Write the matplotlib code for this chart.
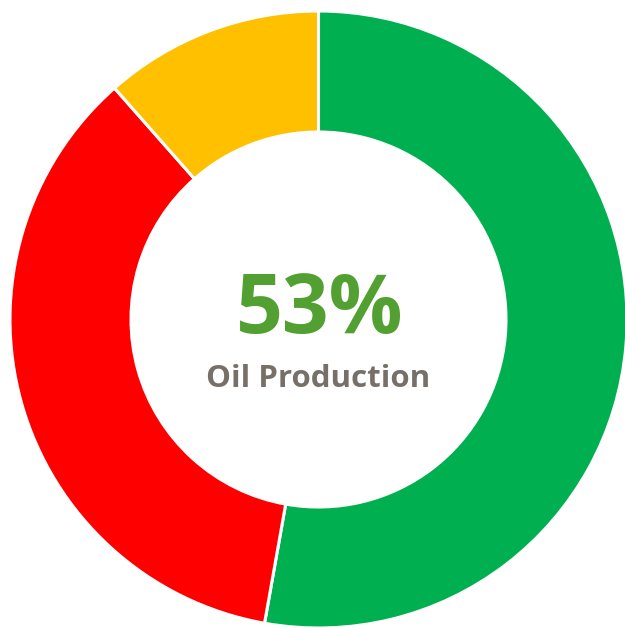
import matplotlib
matplotlib.use('Agg')

import matplotlib.pyplot as plt

# donut segments, clockwise from 12 o'clock
labels = ['Oil Production', 'Other', 'Remaining']
values = [52.8, 35.7, 11.5]
colors = ['#00B050', '#FF0000', '#FFC000']

headline = '53%'
caption = 'Oil Production'

fig = plt.figure(figsize=(6.25, 6.28), dpi=100)
ax = fig.add_axes([0, 0, 1, 1])

# pixel layout: center from top-left, outer radius in px
R = 308.5
cx, cy = 318.5, 319.5

ax.pie(values, colors=colors, startangle=90, counterclock=False,
       radius=1.0, wedgeprops=dict(width=121 / R, edgecolor='white', linewidth=2.2))

ax.set_xlim(-cx / R, (625 - cx) / R)
ax.set_ylim(-(628 - cy) / R, cy / R)
ax.set_aspect('auto')
ax.axis('off')

def ypix(p):
    return (cy - p) / R

ax.text(0.003, ypix(333), headline, ha='center', va='baseline',
        fontsize=59, fontweight='bold', color='#52A031', family='Open Sans')
ax.text(0.0, ypix(387), caption, ha='center', va='baseline',
        fontsize=22.5, fontweight='bold', color='#767068', family='Open Sans')

fig.savefig('out.png', dpi=100)
